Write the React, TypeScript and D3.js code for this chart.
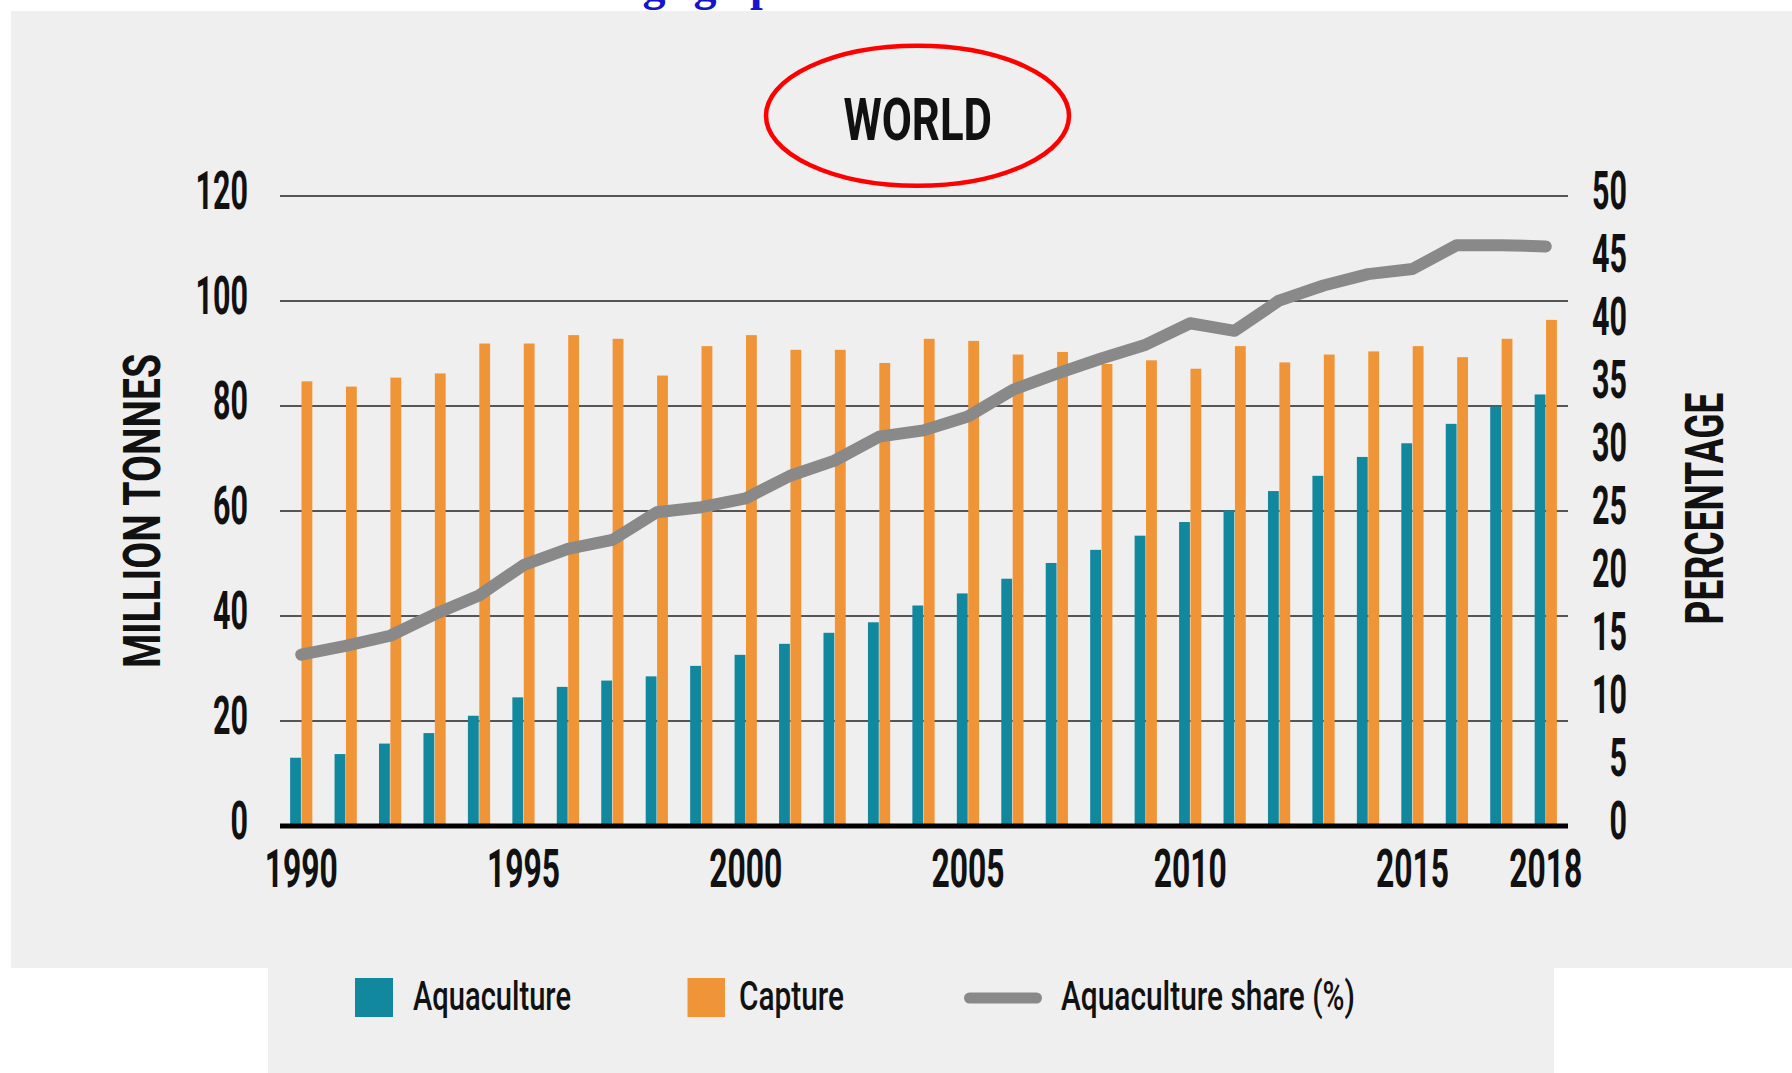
import React from "react";
import * as d3 from "d3";

// World fisheries and aquaculture production, 1990–2018
const years: number[] = d3.range(1990, 2019);

const aquaculture: number[] = [
  13.0, 13.7, 15.7, 17.7, 21.0, 24.5, 26.5, 27.7, 28.5, 30.5,
  32.6, 34.7, 36.8, 38.8, 42.0, 44.3, 47.1, 50.1, 52.6, 55.3,
  57.9, 60.1, 63.8, 66.7, 70.3, 72.9, 76.6, 79.9, 82.2,
];

const capture: number[] = [
  84.7, 83.7, 85.4, 86.2, 91.9, 91.9, 93.5, 92.8, 85.8, 91.4,
  93.5, 90.7, 90.7, 88.2, 92.8, 92.4, 89.8, 90.3, 88.0, 88.7,
  87.1, 91.4, 88.3, 89.8, 90.4, 91.4, 89.3, 92.8, 96.4,
];

const aquacultureShare: number[] = [
  13.6, 14.3, 15.1, 16.8, 18.3, 20.7, 22.0, 22.7, 24.9, 25.3,
  26.0, 27.8, 29.0, 30.9, 31.4, 32.5, 34.6, 35.9, 37.1, 38.2,
  39.9, 39.3, 41.7, 42.9, 43.8, 44.2, 46.1, 46.1, 46.0,
];

const leftTicks: number[] = [0, 20, 40, 60, 80, 100, 120];
const rightTicks: number[] = [0, 5, 10, 15, 20, 25, 30, 35, 40, 45, 50];
const xTickYears: number[] = [1990, 1995, 2000, 2005, 2010, 2015, 2018];
const seriesKeys: string[] = ["aquaculture", "capture"];

const W = 1792;
const H = 1073;
const FONT = "Roboto, 'Liberation Sans', Arial, sans-serif";
const COLORS = {
  aquaculture: "#12889f",
  capture: "#ef9437",
  share: "#898989",
  panel: "#efefef",
  grid: "#555555",
  text: "#111111",
};

export default function App() {
  const x = d3
    .scaleBand<number>()
    .domain(years)
    .range([279, 1568])
    .paddingInner(0.5)
    .paddingOuter(0.25);

  const xSub = d3
    .scaleBand<string>()
    .domain(seriesKeys)
    .range([0, x.bandwidth()])
    .paddingInner(0.05);

  const yLeft = d3.scaleLinear().domain([0, 120]).range([826, 196]);
  const yRight = d3.scaleLinear().domain([0, 50]).range([826, 196]);

  const cx = (yr: number) => (x(yr) as number) + x.bandwidth() / 2;

  const shareLine = d3
    .line<number>()
    .x((_, i) => cx(years[i]))
    .y((d) => yRight(d))
    .curve(d3.curveLinear);

  const digitW = 17.5;

  return (
    <div style={{ position: "absolute", left: 0, top: 0 }}>
      <svg width={W} height={H} viewBox={`0 0 ${W} ${H}`} style={{ display: "block", background: "#ffffff" }}>
        {/* clipped heading glyphs peeking above the panel */}
        <g fill="#1414cc" fontFamily="'Liberation Serif', 'Times New Roman', serif" fontWeight={700} fontSize={46}>
          <text x={654} y={0} textAnchor="middle">g</text>
          <text x={705} y={0} textAnchor="middle">g</text>
          <text x={750} y={0}>p</text>
        </g>

        {/* background panels */}
        <rect x={11} y={11} width={W - 11} height={968 - 11} fill={COLORS.panel} />
        <rect x={268} y={968} width={1554 - 268} height={H - 968} fill={COLORS.panel} />

        {/* title with highlight ellipse */}
        <text x={843.4} y={139.5} fontFamily={FONT} fontWeight={700} fontSize={59} fill={COLORS.text}
          textLength={148.6} lengthAdjust="spacingAndGlyphs">WORLD</text>
        <ellipse cx={917.5} cy={115.7} rx={151.5} ry={70} fill="none" stroke="#ff0000" strokeWidth={4.5} />

        {/* horizontal grid */}
        {leftTicks.filter((t) => t > 0).map((t) => (
          <line key={`g${t}`} x1={280} x2={1568} y1={yLeft(t)} y2={yLeft(t)} stroke={COLORS.grid} strokeWidth={2} />
        ))}

        {/* bars */}
        {years.map((yr, i) => (
          <g key={yr} transform={`translate(${x(yr)},0)`}>
            <rect x={xSub("aquaculture")} y={yLeft(aquaculture[i])} width={xSub.bandwidth()}
              height={yLeft(0) - yLeft(aquaculture[i])} fill={COLORS.aquaculture} />
            <rect x={xSub("capture")} y={yLeft(capture[i])} width={xSub.bandwidth()}
              height={yLeft(0) - yLeft(capture[i])} fill={COLORS.capture} />
          </g>
        ))}

        {/* baseline */}
        <line x1={280} x2={1568} y1={yLeft(0)} y2={yLeft(0)} stroke="#000000" strokeWidth={5} />

        {/* aquaculture share line */}
        <path d={shareLine(aquacultureShare) || ""} fill="none" stroke={COLORS.share} strokeWidth={12}
          strokeLinecap="round" strokeLinejoin="round" />

        {/* left axis labels */}
        <g fontFamily={FONT} fontWeight={700} fontSize={53} fill={COLORS.text}>
          {leftTicks.map((t) => {
            const s = String(t);
            const len = s.length * digitW;
            return (
              <text key={`l${t}`} x={248 - len} y={yLeft(t) + 13} textLength={len} lengthAdjust="spacingAndGlyphs">{s}</text>
            );
          })}
          {rightTicks.map((t) => {
            const s = String(t);
            const len = s.length * digitW;
            return (
              <text key={`r${t}`} x={1627 - len} y={yRight(t) + 13} textLength={len} lengthAdjust="spacingAndGlyphs">{s}</text>
            );
          })}
          {xTickYears.map((yr) => (
            <text key={`x${yr}`} x={cx(yr) - 36.5} y={887} textLength={73} lengthAdjust="spacingAndGlyphs">{String(yr)}</text>
          ))}
        </g>

        {/* axis titles */}
        <text transform="translate(160,668) rotate(-90)" fontFamily={FONT} fontWeight={700} fontSize={52}
          fill={COLORS.text} textLength={314} lengthAdjust="spacingAndGlyphs">MILLION TONNES</text>
        <text transform="translate(1722.7,624.5) rotate(-90)" fontFamily={FONT} fontWeight={700} fontSize={53}
          fill={COLORS.text} textLength={232} lengthAdjust="spacingAndGlyphs">PERCENTAGE</text>

        {/* legend */}
        <rect x={355} y={978} width={38} height={39} fill={COLORS.aquaculture} />
        <text x={413} y={1010} fontFamily={FONT} fontWeight={500} fontSize={40} fill={COLORS.text}
          textLength={158} lengthAdjust="spacingAndGlyphs">Aquaculture</text>
        <rect x={687.5} y={978} width={37.5} height={39} fill={COLORS.capture} />
        <text x={739} y={1010} fontFamily={FONT} fontWeight={500} fontSize={40} fill={COLORS.text}
          textLength={105} lengthAdjust="spacingAndGlyphs">Capture</text>
        <line x1={969.5} x2={1036.5} y1={998} y2={998} stroke={COLORS.share} strokeWidth={11} strokeLinecap="round" />
        <text x={1061} y={1010} fontFamily={FONT} fontWeight={500} fontSize={40} fill={COLORS.text}
          textLength={294} lengthAdjust="spacingAndGlyphs">Aquaculture share (%)</text>
      </svg>
    </div>
  );
}
